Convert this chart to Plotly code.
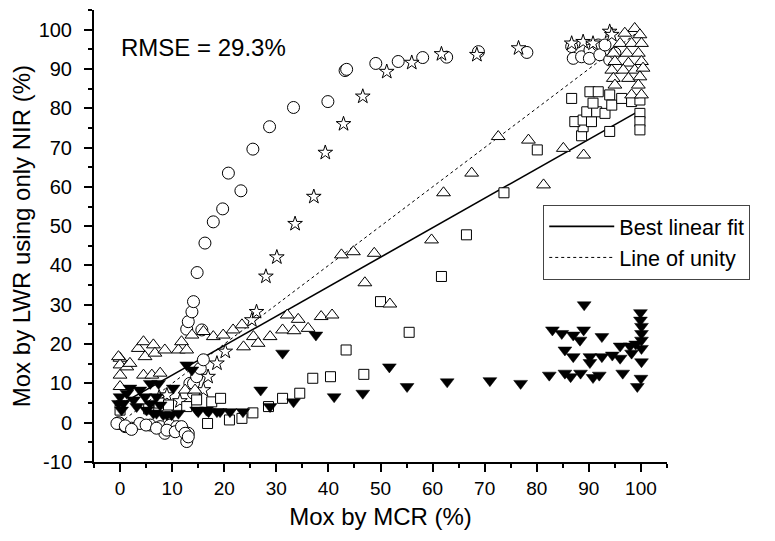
import plotly.graph_objects as go

# ---------------- data ----------------
circ_x = [0.0, 1.0, 2.2, 3.8, 5.8, 7.7, 8.6, 9.6, 10.9, 12.1, 13.1, 12.8, -0.3, -0.6, 1.0, 2.2,
          5.0, 7.0, 9.0, 10.6, 11.8, 12.5, 13.1, 13.4, 14.1, 14.1, 14.7, 15.4, 16.0, 15.7,
          12.8, 13.1, 13.8, 14.1, 14.8, 16.3, 17.9, 19.7, 23.2, 20.8, 25.5, 28.7, 33.3, 39.9,
          43.2, 43.5, 49.1, 53.4, 58.1, 62.7, 68.8, 78.1, 86.7, 87.0, 88.6, 90.2, 90.1, 91.8,
          92.1, 93.1, 94.0, 95.0]
circ_y = [-0.2, -1.0, -1.4, -0.2, -0.6, -1.0, -2.7, -0.6, -1.0, -1.9, -2.7, -4.8, 0.0, -0.2, -0.8, -1.7,
          -0.6, -1.4, -1.9, -2.3, -1.0, -2.7, -3.6, 10.0, 7.5, 10.0, 11.7, 13.8, 16.0, 23.6,
          23.8, 25.7, 28.2, 30.8, 38.2, 45.7, 51.1, 54.4, 59.0, 63.5, 69.6, 75.3, 80.2, 81.7,
          89.6, 89.9, 91.4, 91.9, 92.9, 93.0, 94.4, 94.2, 95.7, 92.7, 93.1, 94.8, 92.7, 96.1,
          93.6, 96.1, 92.3, 94.0]

star_x = [7.5, 9.0, 11.5, 16.0, 16.9, 18.6, 20.2, 25.3, 26.2, 28.0, 30.1, 33.6, 37.2, 39.4,
          42.9, 46.6, 51.2, 56.0, 61.7, 68.5, 76.5, 86.7, 88.9, 90.8, 94.0, 94.4]
star_y = [6.5, 7.0, 5.5, 8.3, 11.7, 15.1, 18.1, 26.1, 28.2, 37.2, 42.1, 50.6, 57.5, 68.7,
          76.0, 83.0, 89.3, 91.6, 93.8, 93.6, 95.3, 96.5, 96.9, 96.5, 99.5, 98.7]

sq_x = [0.0, 5.5, 7.5, 9.3, 12.8, 14.7, 17.6, 19.3, 16.8, 21.0, 23.4, 25.5, 28.5, 31.2, 34.5,
        37.0, 40.4, 43.4, 46.8, 50.0, 55.5, 61.7, 66.5, 73.7, 80.1, 86.7, 88.6, 88.9, 87.3,
        88.9, 90.5, 89.6, 91.5, 93.1, 90.8, 90.2, 91.8, 94.0, 94.4, 96.3, 98.2, 99.8, 99.8,
        99.8, 99.8, 94.0]
sq_y = [3.2, 3.5, 5.0, 4.5, 4.1, 5.8, 5.3, 6.2, -0.2, 0.7, 1.1, 2.5, 4.1, 6.2, 7.5,
        11.3, 11.7, 18.5, 12.3, 30.8, 23.0, 37.2, 47.8, 58.5, 69.4, 82.5, 73.0, 75.3, 76.6,
        77.0, 76.6, 79.1, 79.1, 78.7, 81.3, 84.2, 84.2, 83.4, 80.8, 82.5, 81.7, 82.1, 78.7,
        76.6, 74.5, 74.1]

tri_x = [0.0, 0.0, 0.0, 0.0, -0.3, 1.3, 1.9, 3.5, 4.5, 4.8, 6.4, 6.7, 8.6, 4.5, 6.1, 7.7,
         11.2, 11.8, 12.8, 13.8, 16.0, 17.9, 19.8, 21.7, 23.4, 23.7, 25.6, 26.5, 28.8, 31.2,
         32.1, 33.4, 34.2, 36.1, 38.6, 40.7, 42.5, 44.8, 48.8, 47.0, 51.8, 59.8, 62.1, 67.5,
         72.6, 78.4, 81.3, 85.1, 89.0, 12.5, 14.4,
         98.8, 99.8, 96.9, 96.0, 98.2, 100.1, 94.7, 97.3, 99.5, 95.0, 97.6, 100.1, 94.4, 96.6,
         98.8, 100.4, 94.7, 97.6, 99.8, 95.0, 99.5, 98.2, 100.1]
tri_y = [16.4, 14.7, 12.1, 9.2, 16.8, 14.2, 15.1, 18.9, 20.6, 16.8, 19.8, 17.7, 18.5, 12.1, 12.1, 12.6,
         18.5, 20.6, 18.5, 22.3, 23.2, 21.9, 22.3, 23.6, 24.9, 19.3, 21.9, 20.2, 21.9, 23.6,
         27.4, 23.4, 26.3, 24.0, 27.0, 27.4, 42.7, 43.5, 43.1, 35.6, 30.2, 46.5, 58.5, 63.5,
         72.8, 71.9, 60.5, 69.8, 68.1, 8.3, 8.3,
         100.3, 98.7, 99.1, 96.5, 96.5, 96.5, 94.0, 94.0, 94.0, 91.9, 91.5, 91.9, 89.7, 89.7,
         89.7, 90.2, 87.6, 87.6, 88.0, 85.9, 85.9, 83.4, 83.4]

dn_x = [62.8, 71.0, 76.9, 82.4, 85.4, 86.5, 88.4, 90.8, 92.0, 96.5, 100.0, 99.3, 89.1, 99.9,
        99.9, 83.0, 84.8, 87.0, 89.0, 88.3, 92.5, 85.4, 87.0, 90.2, 90.2, 92.5, 94.5, 96.0,
        96.0, 97.9, 98.2, 100.1, 100.1, 100.1, 100.1, 100.1, 99.0,
        37.6, 31.2, 51.7, 55.1, 46.6, 41.1, 33.3, 28.8, 27.0, 23.6, 21.1, 19.2, 17.0, 15.0,
        11.2, 9.0, 7.0, 10.2, 12.8, 13.8, 5.8, 7.4,
        0.0, 0.6, 1.3, 2.6, 3.8, 4.8, 3.2, 5.8, 7.0, 1.9, 0.3, 7.7, 5.1, -0.3, 6.4, 8.3,
        9.9, 14.7, 16.6, 18.6]
dn_y = [10.4, 10.7, 10.0, 12.1, 12.6, 11.7, 12.6, 11.5, 12.1, 12.6, 11.3, 9.2, 30.0, 28.0,
        26.1, 23.6, 22.7, 22.3, 23.6, 21.0, 21.9, 18.5, 16.8, 16.8, 15.3, 16.8, 17.2, 16.4,
        19.5, 19.5, 17.7, 22.7, 21.0, 18.9, 15.5, 24.5, 20.0,
        22.3, 17.7, 14.2, 9.2, 7.5, 6.6, 5.3, 4.1, 8.3, 2.8, 2.8, 2.8, 2.8, 2.8,
        2.4, 2.0, 2.4, 8.8, 14.7, 13.4, 10.0, 10.0,
        6.6, 4.9, 7.5, 5.8, 8.3, 6.6, 4.1, 4.9, 6.6, 8.8, 3.2, 4.5, 3.2, 4.9, 2.4, 2.0,
        2.0, 3.2, 3.2, 2.8]

fit_x = [0, 100]
fit_y = [4.6, 79.6]
unity_x = [0, 100]
unity_y = [0, 100]

x_ticks = [0, 10, 20, 30, 40, 50, 60, 70, 80, 90, 100]
y_ticks = [-10, 0, 10, 20, 30, 40, 50, 60, 70, 80, 90, 100]
y_ticklabels = [str(v) for v in y_ticks]

FONT = "Arial, Liberation Sans, sans-serif"

fig = go.Figure()

fig.add_trace(go.Scatter(x=fit_x, y=fit_y, mode="lines", name="Best linear fit",
                         line=dict(color="black", width=1.6)))
fig.add_trace(go.Scatter(x=unity_x, y=unity_y, mode="lines", name="Line of unity",
                         line=dict(color="black", width=1, dash="3px,3px")))


def open_marker(x, y, symbol, size):
    return go.Scatter(x=x, y=y, mode="markers", showlegend=False,
                      marker=dict(symbol=symbol, size=size, color="white",
                                  line=dict(color="black", width=1)))


fig.add_trace(open_marker(circ_x, circ_y, "circle", 12))
fig.add_trace(open_marker(star_x, star_y, "star", 11))
fig.add_trace(open_marker(sq_x, sq_y, "square", 10))
fig.add_trace(open_marker(tri_x, tri_y, "triangle-up", 12))
fig.add_trace(go.Scatter(x=dn_x, y=dn_y, mode="markers", showlegend=False,
                         marker=dict(symbol="triangle-down", size=12, color="black",
                                     line=dict(color="black", width=0.5))))

axis_common = dict(showline=True, linecolor="black", linewidth=2, mirror=False,
                   showgrid=False, zeroline=False, ticks="outside", ticklen=8,
                   tickwidth=2, tickcolor="black")

fig.update_xaxes(range=[-5, 105], tickvals=x_ticks,
                 tickfont=dict(family=FONT, size=19, color="black"),
                 minor=dict(dtick=5, tick0=0, ticks="outside", ticklen=4, tickwidth=2,
                            tickcolor="black", showgrid=False),
                 title=dict(text="Mox by MCR (%)", font=dict(family=FONT, size=24, color="black"),
                            standoff=10),
                 **axis_common)
fig.update_yaxes(range=[-10, 105], tickvals=y_ticks, ticktext=y_ticklabels,
                 tickfont=dict(family=FONT, size=20, color="black"),
                 ticklabelstandoff=8,
                 minor=dict(dtick=5, tick0=0, ticks="outside", ticklen=4, tickwidth=2,
                            tickcolor="black", showgrid=False),
                 **axis_common)

fig.add_annotation(text="Mox by LWR using only NIR (%)", textangle=-90,
                   xref="paper", yref="paper", x=-0.127, y=0.5,
                   xanchor="center", yanchor="middle", showarrow=False,
                   font=dict(family=FONT, size=24, color="black"))

fig.add_annotation(text="RMSE = 29.3%", xref="paper", yref="paper", x=0.044, y=0.918,
                   xanchor="left", yanchor="middle", showarrow=False,
                   font=dict(family=FONT, size=24, color="black"))

fig.update_layout(
    width=775, height=541,
    margin=dict(l=86, r=116, t=2, b=87),
    plot_bgcolor="white", paper_bgcolor="white",
    font=dict(family=FONT, color="black"),
    legend=dict(x=0.784, y=0.569, xanchor="left", yanchor="top",
                bgcolor="white", bordercolor="#444", borderwidth=1, itemwidth=65,
                entrywidth=145, entrywidthmode="pixels",
                font=dict(family=FONT, size=21.6, color="black")),
)

fig.write_html("out.html")
